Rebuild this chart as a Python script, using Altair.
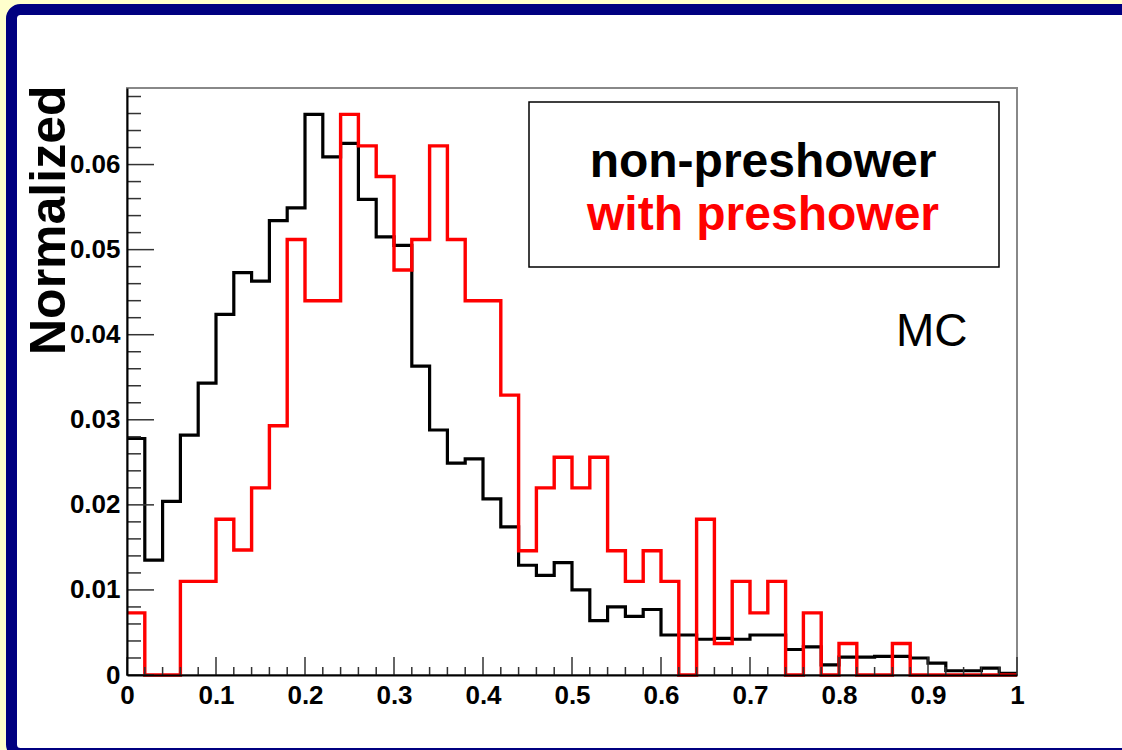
import altair as alt
import numpy as np
import pandas as pd

# 50 bins of width 0.02 between 0 and 1
bin_edges = np.round(np.arange(51) * 0.02, 2)

non_preshower = [
    0.0278, 0.0135, 0.0204, 0.0282, 0.0343, 0.0424, 0.0473, 0.0463, 0.0534, 0.0549,
    0.0659, 0.0609, 0.0625, 0.0559, 0.0515, 0.0505, 0.0363, 0.0288, 0.0249, 0.0254,
    0.0207, 0.0174, 0.0129, 0.0117, 0.0132, 0.0100, 0.0064, 0.0080, 0.0069, 0.0077,
    0.0047, 0.0047, 0.0042, 0.0043, 0.0042, 0.0047, 0.0047, 0.0030, 0.0033, 0.0012,
    0.0021, 0.0021, 0.0022, 0.0022, 0.0020, 0.0014, 0.0005, 0.0005, 0.0008, 0.0002,
]

with_preshower = [
    0.0073, 0.0, 0.0, 0.0110, 0.0110, 0.0183, 0.0147, 0.0220, 0.0293, 0.0512,
    0.0440, 0.0440, 0.0659, 0.0622, 0.0586, 0.0476, 0.0512, 0.0622, 0.0512, 0.0440,
    0.0440, 0.0329, 0.0146, 0.0220, 0.0256, 0.0220, 0.0256, 0.0146, 0.0110, 0.0146,
    0.0110, 0.0, 0.0183, 0.0037, 0.0110, 0.0073, 0.0110, 0.0, 0.0073, 0.0,
    0.0037, 0.0, 0.0, 0.0037, 0.0, 0.0, 0.0, 0.0, 0.0, 0.0,
]

x_tick_values = [0, 0.1, 0.2, 0.3, 0.4, 0.5, 0.6, 0.7, 0.8, 0.9, 1]
y_tick_values = [0, 0.01, 0.02, 0.03, 0.04, 0.05, 0.06]
x_minor_ticks = [v for v in np.round(np.arange(0, 1.0001, 0.02), 2) if round(v * 10, 6) % 1 != 0]
y_minor_ticks = [v for v in np.round(np.arange(0, 0.0681, 0.002), 3) if round(v * 100, 6) % 1 != 0]

legend_labels = ["non-preshower", "with preshower"]
legend_colors = ["black", "#ff0000"]
annotation = "MC"
y_title = "Normalized"

W, H = 890, 587
FONT = "Liberation Sans"

xs = alt.Scale(domain=[0, 1], nice=False, zero=False)
ys = alt.Scale(domain=[0, 0.069], nice=False)

x_axis = alt.Axis(
    values=x_tick_values, format="~g", title=None, grid=False, ticks=False, tickSize=0,
    labelFont=FONT, labelFontWeight="bold", labelFontSize=26, labelColor="black",
    labelPadding=7, labelFlush=False, labelOverlap=False,
    domainColor="black", domainWidth=2, zindex=1,
)
y_axis = alt.Axis(
    values=y_tick_values, format="~g", grid=False, ticks=False, tickSize=0,
    labelFont=FONT, labelFontWeight="bold", labelFontSize=26, labelColor="black",
    labelPadding=7, labelOverlap=False, labelFlush=False,
    domainColor="black", domainWidth=2, zindex=1,
    title=y_title, titleFont=FONT, titleFontWeight="bold", titleFontSize=50,
    titleColor="black", titleAngle=270, titleX=-63, titleY=-3,
    titleAlign="right", titleBaseline="alphabetic",
)
X = alt.X("x:Q", scale=xs, axis=x_axis)
Y = alt.Y("y:Q", scale=ys, axis=y_axis)


def step_frame(values):
    # repeat the last bin so the step line reaches the upper edge
    return pd.DataFrame({"x": bin_edges, "y": list(values) + [values[-1]]})


single = alt.Chart(pd.DataFrame({"k": [0]}))

# canvas decoration: pale strip outside, navy rounded border (stroke only)
pale_left = single.mark_rect(color="#FFFFCC").encode(
    x=alt.value(-130), x2=alt.value(-115), y=alt.value(-90), y2=alt.value(H + 100)
)
pale_top = single.mark_rect(color="#FFFFCC").encode(
    x=alt.value(-130), x2=alt.value(W + 150), y=alt.value(-90), y2=alt.value(-78)
)
navy = single.mark_rect(
    fillOpacity=0, stroke="#000080", strokeWidth=11, cornerRadius=9
).encode(
    x=alt.value(-115.5), x2=alt.value(W + 150), y=alt.value(-78.5), y2=alt.value(H + 78.5)
)

# plot frame (top / right edges in grey)
frame = single.mark_rect(fillOpacity=0, stroke="#888888", strokeWidth=2).encode(
    x=alt.value(0), x2=alt.value(W), y=alt.value(0), y2=alt.value(H)
)

legend_box = single.mark_rect(fill="white", stroke="black", strokeWidth=1.5).encode(
    x=alt.value(402), x2=alt.value(872), y=alt.value(14), y2=alt.value(179)
)
legend_text = [
    single.mark_text(
        font=FONT, fontWeight="bold", fontSize=48, align="center",
        baseline="alphabetic", color=legend_colors[i]
    ).encode(x=alt.value(636), y=alt.value(89 + 53 * i), text=alt.value(legend_labels[i]))
    for i in range(2)
]
mc_text = single.mark_text(
    font=FONT, fontSize=46, align="left", baseline="alphabetic", color="black"
).encode(x=alt.value(769), y=alt.value(258), text=alt.value(annotation))

black_hist = alt.Chart(step_frame(non_preshower)).mark_line(
    interpolate="step-after", color="black", strokeWidth=3.2
).encode(x=X, y=Y)
red_hist = alt.Chart(step_frame(with_preshower)).mark_line(
    interpolate="step-after", color="#ff0000", strokeWidth=3.4
).encode(x=X, y=Y)


def x_ticks(vals, length):
    return alt.Chart(pd.DataFrame({"x": vals})).mark_rule(color="#333333", strokeWidth=1.5).encode(
        x=X, y=alt.value(H), y2=alt.value(H - length)
    )


def y_ticks(vals, length):
    return alt.Chart(pd.DataFrame({"y": vals})).mark_rule(color="#333333", strokeWidth=1.5).encode(
        y=Y, x=alt.value(0), x2=alt.value(length)
    )


chart = alt.layer(
    pale_left, pale_top, navy, frame, legend_box, *legend_text, mc_text,
    black_hist, red_hist,
    x_ticks(x_minor_ticks, 8), x_ticks(x_tick_values, 18),
    y_ticks(y_minor_ticks, 14), y_ticks(y_tick_values, 27),
).properties(
    width=W, height=H,
    padding={"left": 127, "top": 88, "right": 105, "bottom": 75},
    autosize=alt.AutoSizeParams(type="none"),
).configure(
    background="white"
).configure_view(stroke="transparent")

chart.save("out.html", embed_options={"renderer": "svg", "actions": False})
